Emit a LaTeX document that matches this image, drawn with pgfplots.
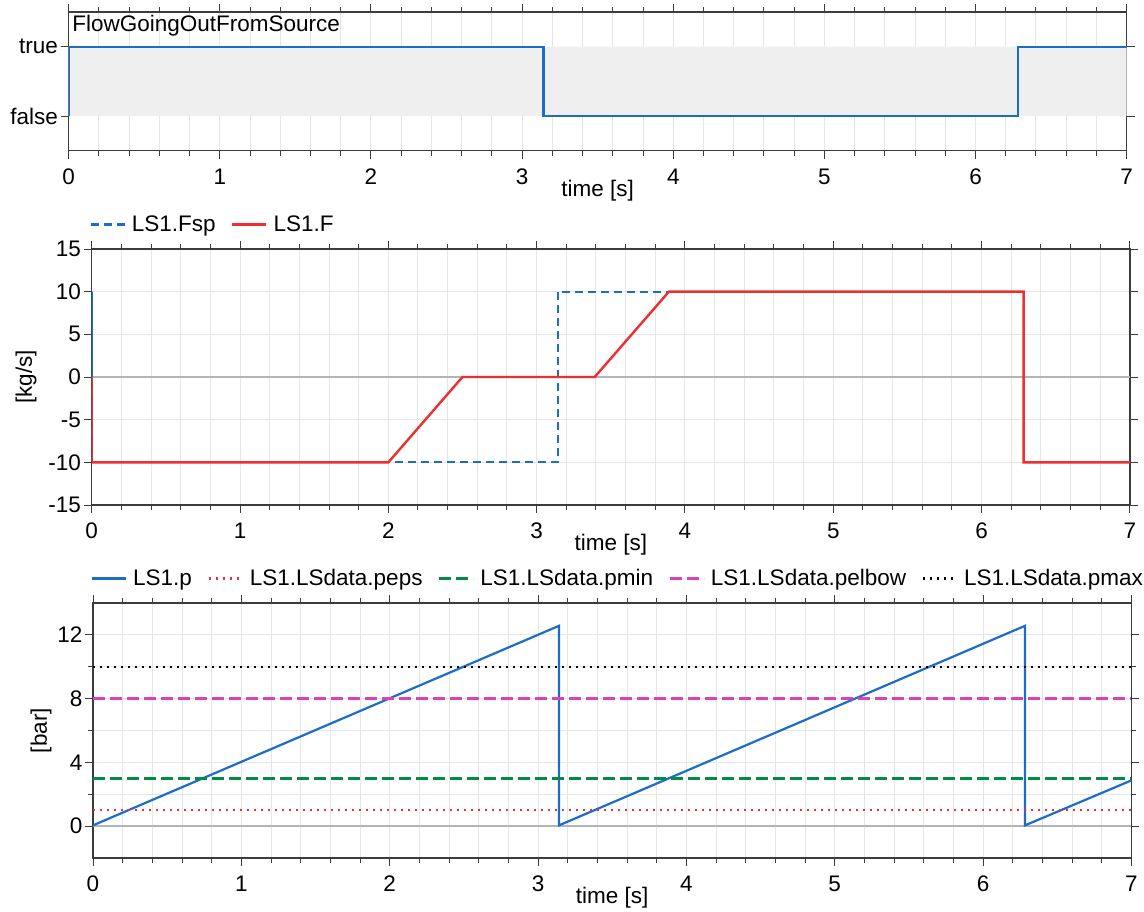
\documentclass[border=0pt]{standalone}
\usepackage{fontspec}
\setmainfont{Liberation Sans}
\usepackage{pgfplots}
\pgfplotsset{compat=1.18}
\definecolor{dblue}{RGB}{28,108,200}
\definecolor{dred}{RGB}{238,46,47}
\definecolor{dgreen}{RGB}{0,140,72}
\definecolor{dmag}{RGB}{217,67,180}
\definecolor{gridc}{RGB}{230,230,230}
\definecolor{axc}{RGB}{60,60,60}
\definecolor{bandc}{RGB}{239,239,239}
\definecolor{zeroc}{RGB}{180,180,180}

\pgfplotsset{
 mystyle/.style={
  scale only axis, anchor=north west,
  xmin=0, xmax=7, xtick={0,...,7}, minor x tick num=4,
  tick align=outside,
  major tick length=8pt, minor tick length=5pt,
  every tick/.append style={axc, line width=1pt},
  axis line style={axc, line width=1.2pt},
  major grid style={gridc, line width=1pt},
  minor grid style={gridc, line width=1pt},
  xlabel={time [s]},
  xlabel style={at={(axis description cs:0.5,0)}, anchor=center, yshift=-39.5pt, inner sep=0pt},
  xticklabel style={inner sep=0pt, anchor=north, yshift=-10pt},
  yticklabel style={inner sep=0pt, anchor=east, xshift=-2.5pt},
  ylabel style={at={(axis description cs:0,0.5)}, anchor=center, inner sep=0pt},
  /pgf/number format/assume math mode=true,
  legend image code/.code={\draw[##1] (0pt,0pt) -- (34pt,0pt);},
  legend style={at={(axis description cs:0,1)}, anchor=west, yshift=24.5pt, xshift=-2pt,
    draw=none, fill=none, inner sep=0pt, outer sep=0pt,
    cells={anchor=west}, nodes={inner sep=0pt},
    /tikz/every odd column/.append style={column sep=6pt},
    /tikz/every even column/.append style={column sep=15.5pt}},
  legend columns=-1,
 }
}

\begin{document}
\begin{tikzpicture}[font=\fontsize{22.5}{27}\selectfont]
\useasboundingbox (0,0) rectangle (1144pt,-911pt);

% Panel 1
\begin{axis}[mystyle,
  at={(68.7pt,-12pt)}, width=1058pt, height=138.7pt,
  ymin=-0.5, ymax=1.5, ytick={0,1}, yticklabels={false,true},
  xmajorgrids, xminorgrids]
\addplot[draw=none, fill=bandc, forget plot] coordinates {(0,0) (7,0) (7,1) (0,1) (0,0)};
\addplot[dblue, line width=2.2pt] coordinates {
(0,0) (0,1) (3.1416,1) (3.1416,0) (6.2832,0) (6.2832,1) (7,1)};
\node[anchor=base west, inner sep=0pt] at (axis description cs:0,1) [xshift=3.5pt, yshift=-19.7pt] {FlowGoingOutFromSource};
\end{axis}

% Panel 2
\begin{axis}[mystyle,
  at={(91.7pt,-249pt)}, width=1038.3pt, height=256pt,
  ymin=-15, ymax=15, ytick={-15,-10,...,15},
  ylabel={[kg/s]}, ylabel style={yshift=65.7pt},
  xmajorgrids, xminorgrids, ymajorgrids]
\addplot[zeroc, line width=1.3pt, forget plot] coordinates {(0,0) (7,0)};
\addplot[dblue, line width=2.2pt, dash pattern=on 8pt off 5pt] coordinates {
(0,0) (0,10) (0,-10) (3.1416,-10) (3.1416,10) (6.2832,10) (6.2832,-10) (7,-10)};
\addlegendentry{LS1.Fsp}
\addplot[dred, line width=2.4pt] coordinates {
(0,0) (0,-10) (2.0,-10) (2.5,0) (3.3916,0) (3.8916,10) (6.2832,10) (6.2832,-10) (7,-10)};
\addlegendentry{LS1.F}
\end{axis}

% Panel 3
\begin{axis}[mystyle,
  at={(93pt,-603pt)}, width=1038.5pt, height=255pt,
  ymin=-2, ymax=14, ytick={0,4,8,12}, minor y tick num=1,
  ylabel={[bar]}, ylabel style={yshift=52pt},
  grid=both]
\addplot[zeroc, line width=1.3pt, forget plot] coordinates {(0,0) (7,0)};
\addplot[dblue, line width=2.2pt] coordinates {
(0,0.05) (3.1416,12.57) (3.1416,0.05) (6.2832,12.57) (6.2832,0.05) (7,2.87)};
\addlegendentry{LS1.p}
\addplot[dred, line width=2.4pt, dash pattern=on 2pt off 5pt] coordinates {(0,1) (7,1)};
\addlegendentry{LS1.LSdata.peps}
\addplot[dgreen, line width=2.4pt, dash pattern=on 12pt off 5pt] coordinates {(0,3) (7,3)};
\addlegendentry{LS1.LSdata.pmin}
\addplot[dmag, line width=2.4pt, dash pattern=on 12pt off 5pt] coordinates {(0,8) (7,8)};
\addlegendentry{LS1.LSdata.pelbow}
\addplot[black, line width=2.4pt, dash pattern=on 2pt off 5pt] coordinates {(0,10) (7,10)};
\addlegendentry{LS1.LSdata.pmax}
\end{axis}
\end{tikzpicture}
\end{document}
